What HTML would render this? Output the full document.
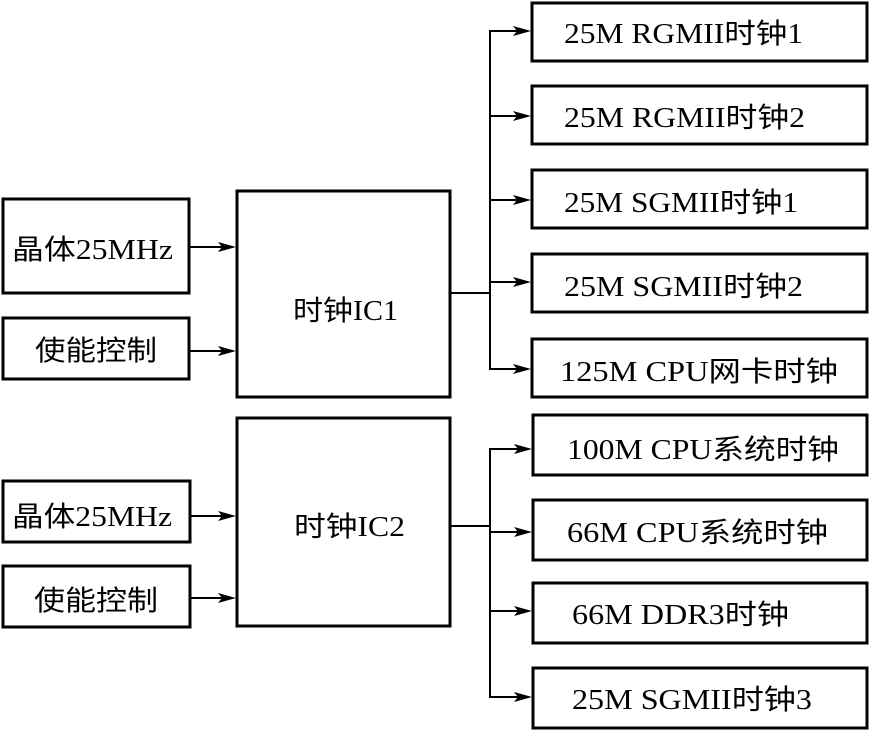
<!DOCTYPE html>
<html><head><meta charset="utf-8"><style>
html,body{margin:0;padding:0;background:#fff;}
svg text{font-family:"Liberation Serif","Noto Sans CJK SC",serif;font-size:28px;fill:#000;}
</style></head><body>
<svg width="869" height="730" viewBox="0 0 869 730" xmlns="http://www.w3.org/2000/svg">
<g fill="none" stroke="#000" stroke-width="3">
<rect x="3" y="199" width="186" height="94"/>
<rect x="3" y="318" width="186" height="61"/>
<rect x="237" y="191" width="213" height="206"/>
<rect x="3" y="481" width="187" height="61"/>
<rect x="3" y="566" width="187" height="61"/>
<rect x="237" y="418" width="213" height="208"/>
<rect x="532" y="3" width="335" height="58"/>
<rect x="532" y="86" width="335" height="58"/>
<rect x="532" y="170" width="335" height="58"/>
<rect x="532" y="254" width="335" height="58"/>
<rect x="532" y="339" width="335" height="58"/>
<rect x="533" y="415" width="334" height="60"/>
<rect x="533" y="500" width="334" height="60"/>
<rect x="533" y="583" width="334" height="60"/>
<rect x="533" y="668" width="334" height="60"/>
</g>
<g fill="none" stroke="#000" stroke-width="2">
<path d="M450 293 H490 M490 30 V370 M450 526 H490 M490 448 V698"/>
<path d="M189 247 H225 M189 351 H225 M190 516 H225 M190 598 H225"/>
<path d="M490 31 H520 M490 116 H520 M490 200 H520 M490 282 H520 M490 369 H520 M490 449 H521 M490 532 H521 M490 611 H521 M490 697 H521"/>
</g>
<g fill="#000">
<polygon points="236,247 218,242 222,247 218,252"/>
<polygon points="236,351 218,346 222,351 218,356"/>
<polygon points="236,516 218,511 222,516 218,521"/>
<polygon points="236,598 218,593 222,598 218,603"/>
<polygon points="531,31 513,26 517,31 513,36"/>
<polygon points="531,116 513,111 517,116 513,121"/>
<polygon points="531,200 513,195 517,200 513,205"/>
<polygon points="531,282 513,277 517,282 513,287"/>
<polygon points="531,369 513,364 517,369 513,374"/>
<polygon points="532,449 514,444 518,449 514,454"/>
<polygon points="532,532 514,527 518,532 514,537"/>
<polygon points="532,611 514,606 518,611 514,616"/>
<polygon points="532,697 514,692 518,697 514,702"/>
</g>
<text x="12" y="259" textLength="161" lengthAdjust="spacingAndGlyphs">晶体25MHz</text>
<text x="35" y="360" textLength="122" lengthAdjust="spacingAndGlyphs">使能控制</text>
<text x="293" y="320" textLength="105" lengthAdjust="spacingAndGlyphs">时钟IC1</text>
<text x="12" y="526" textLength="160" lengthAdjust="spacingAndGlyphs">晶体25MHz</text>
<text x="34" y="610" textLength="124" lengthAdjust="spacingAndGlyphs">使能控制</text>
<text x="294" y="536" textLength="111" lengthAdjust="spacingAndGlyphs">时钟IC2</text>
<text x="564" y="43" textLength="239" lengthAdjust="spacingAndGlyphs">25M RGMII时钟1</text>
<text x="564" y="127" textLength="241" lengthAdjust="spacingAndGlyphs">25M RGMII时钟2</text>
<text x="564" y="212" textLength="234" lengthAdjust="spacingAndGlyphs">25M SGMII时钟1</text>
<text x="564" y="296" textLength="239" lengthAdjust="spacingAndGlyphs">25M SGMII时钟2</text>
<text x="560" y="381" textLength="278" lengthAdjust="spacingAndGlyphs">125M CPU网卡时钟</text>
<text x="567" y="459" textLength="272" lengthAdjust="spacingAndGlyphs">100M CPU系统时钟</text>
<text x="567" y="542" textLength="261" lengthAdjust="spacingAndGlyphs">66M CPU系统时钟</text>
<text x="572" y="624" textLength="217" lengthAdjust="spacingAndGlyphs">66M DDR3时钟</text>
<text x="572" y="709" textLength="240" lengthAdjust="spacingAndGlyphs">25M SGMII时钟3</text>
</svg>
</body></html>
